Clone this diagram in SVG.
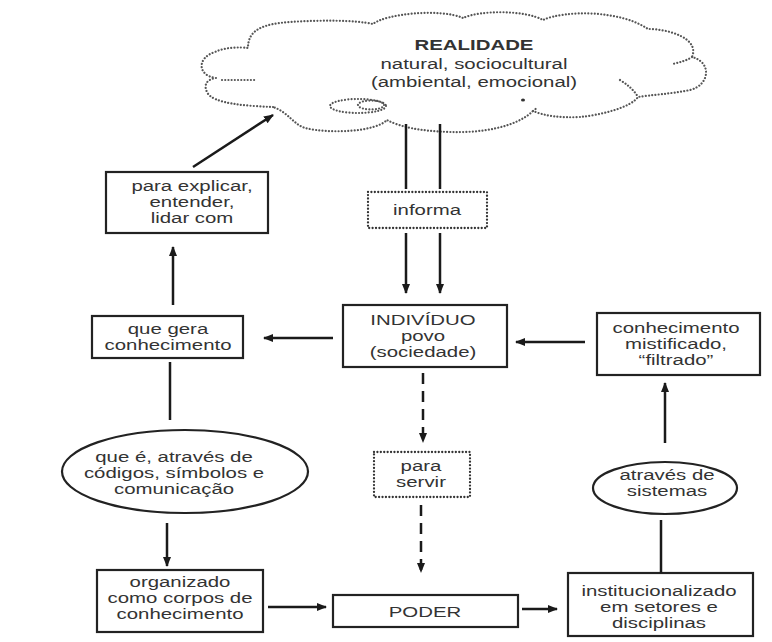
<svg xmlns="http://www.w3.org/2000/svg" width="772" height="642" viewBox="0 0 772 642">
<style>
.t{font-family:"Liberation Sans",Arial,Helvetica,sans-serif;font-size:15px;fill:#333;text-anchor:middle}
.b{font-weight:bold}
.box{fill:#fff;stroke:#222;stroke-width:2.2}
.dot{fill:#fff;stroke:#333;stroke-width:2.3;stroke-linecap:round;stroke-dasharray:0.01 3.4}
.cl{fill:none;stroke:#555;stroke-width:2.2;stroke-linecap:round;stroke-dasharray:0.01 3.2}
.ln{fill:none;stroke:#1a1a1a;stroke-width:2.5}
.ar{marker-end:url(#ah)}
.da{stroke-dasharray:11 7}
</style>
<defs>
<marker id="ah" markerUnits="userSpaceOnUse" viewBox="0 0 10 8" markerWidth="10" markerHeight="8" refX="9" refY="4" orient="auto">
<path d="M0,0 L10,4 L0,8 z" fill="#1a1a1a"/>
</marker>
</defs>
<rect width="772" height="642" fill="#fff"/>

<g id="realidade">
<path class="cl" d="M273,107 C248,106 212,104 207,92 C203,84 208,79 216,78 C198,76 196,58 215,52 C225,47 240,47 248,48 C248,30 262,24 290,22 C320,20 355,20 373,24 C385,14 440,8 463,18 C480,10 525,10 543,20 C565,10 620,10 648,29 C668,29 700,38 692,57 C712,62 710,85 690,90 C670,94 650,95 638,97 C630,108 600,115 580,117 C560,118 545,116 533,111 C515,128 480,133 450,132 C420,131 400,127 387,120 C375,132 330,134 305,128 C293,124 288,112 273,107"/>
<path class="cl" d="M222,80 L257,80 M692,57 C686,61 680,62 673,64 M620,80 C628,85 634,90 638,97 M533,111 L538,107"/>
<ellipse class="cl" cx="358" cy="106" rx="28" ry="7"/>
<ellipse class="cl" cx="371" cy="105" rx="13" ry="4.5"/>
<ellipse cx="523" cy="100" rx="2" ry="1.5" fill="#333"/>
<g transform="translate(474 0) scale(1.36 1)">
<text class="t b" y="50">REALIDADE</text>
<text class="t" y="69">natural, sociocultural</text>
<text class="t" y="87">(ambiental, emocional)</text>
</g>
</g>

<g id="explicar">
<rect class="box" x="106" y="172" width="162" height="61"/>
<g transform="translate(192 0) scale(1.36 1)">
<text class="t" y="191">para explicar,</text>
<text class="t" y="207">entender,</text>
<text class="t" y="223">lidar com</text>
</g>
</g>

<g id="informa">
<rect class="dot" x="368" y="192" width="119" height="36"/>
<g transform="translate(427 0) scale(1.36 1)"><text class="t" y="215">informa</text></g>
</g>

<g id="gera">
<rect class="box" x="92" y="316" width="151" height="42"/>
<g transform="translate(168 0) scale(1.36 1)">
<text class="t" y="334">que gera</text>
<text class="t" y="350">conhecimento</text>
</g>
</g>

<g id="individuo">
<rect class="box" x="343" y="305" width="164" height="62"/>
<g transform="translate(423 0) scale(1.36 1)">
<text class="t" y="325">INDIVÍDUO</text>
<text class="t" y="341">povo</text>
<text class="t" y="357">(sociedade)</text>
</g>
</g>

<g id="mistificado">
<rect class="box" x="597" y="313" width="163" height="62"/>
<g transform="translate(676 0) scale(1.36 1)">
<text class="t" y="333">conhecimento</text>
<text class="t" y="349">mistificado,</text>
<text class="t" y="365">“filtrado”</text>
</g>
</g>

<g id="codigos">
<ellipse class="box" cx="185" cy="471.5" rx="123" ry="41.5"/>
<g transform="translate(174 0) scale(1.36 1)">
<text class="t" y="462">que é, através de</text>
<text class="t" y="478">códigos, símbolos e</text>
<text class="t" y="494">comunicação</text>
</g>
</g>

<g id="servir">
<rect class="dot" x="374" y="452" width="96" height="45"/>
<g transform="translate(421 0) scale(1.36 1)">
<text class="t" y="471">para</text>
<text class="t" y="487">servir</text>
</g>
</g>

<g id="sistemas">
<ellipse class="box" cx="665" cy="488" rx="72" ry="26"/>
<g transform="translate(667 0) scale(1.36 1)">
<text class="t" y="480">através de</text>
<text class="t" y="496">sistemas</text>
</g>
</g>

<g id="organizado">
<rect class="box" x="97" y="570" width="166" height="62"/>
<g transform="translate(180 0) scale(1.36 1)">
<text class="t" y="587">organizado</text>
<text class="t" y="603">como corpos de</text>
<text class="t" y="619">conhecimento</text>
</g>
</g>

<g id="poder">
<rect class="box" x="333" y="595" width="185" height="32"/>
<g transform="translate(425 0) scale(1.36 1)"><text class="t" y="617">PODER</text></g>
</g>

<g id="institucionalizado">
<rect class="box" x="568" y="573" width="185" height="63"/>
<g transform="translate(659 0) scale(1.36 1)">
<text class="t" y="596">institucionalizado</text>
<text class="t" y="612">em setores e</text>
<text class="t" y="628">disciplinas</text>
</g>
</g>

<g id="connectors">
<line class="ln ar" x1="193" y1="167" x2="273" y2="115"/>
<line class="ln" x1="406" y1="124" x2="406" y2="189"/>
<line class="ln" x1="440" y1="124" x2="440" y2="189"/>
<line class="ln ar" x1="406" y1="233" x2="406" y2="293"/>
<line class="ln ar" x1="440" y1="233" x2="440" y2="293"/>
<line class="ln ar" x1="333" y1="338" x2="264" y2="338"/>
<line class="ln ar" x1="585" y1="342" x2="516" y2="342"/>
<line class="ln ar" x1="173" y1="305" x2="173" y2="247"/>
<line class="ln" x1="170" y1="362" x2="170" y2="420"/>
<line class="ln ar" x1="167" y1="523" x2="167" y2="566"/>
<line class="ln ar" x1="268" y1="607" x2="326" y2="607"/>
<line class="ln ar" x1="522" y1="609" x2="557" y2="609"/>
<line class="ln" x1="661" y1="573" x2="661" y2="520"/>
<line class="ln ar" x1="665" y1="443" x2="665" y2="383"/>
<line class="ln da ar" x1="423" y1="373" x2="423" y2="442"/>
<line class="ln da ar" x1="421" y1="505" x2="421" y2="572"/>
</g>
</svg>
